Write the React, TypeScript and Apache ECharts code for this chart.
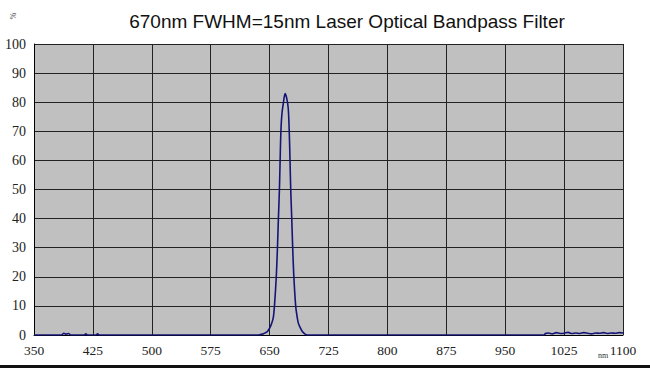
import React, { useEffect, useRef } from "react";
import * as echarts from "echarts";

const TITLE = "670nm FWHM=15nm Laser Optical Bandpass Filter";
const X_MIN = 350;
const X_MAX = 1100;
const X_STEP = 75;
const Y_MIN = 0;
const Y_MAX = 100;
const Y_STEP = 10;

// wavelength (nm) and transmission (%)
const wavelengths = [
  350, 385, 388, 391, 394, 397, 414, 416, 418, 429, 431, 433, 600, 636, 641, 645, 648,
  650.7, 652.7, 654.7, 656.2, 658.5, 660, 661.2, 662.5, 663.4, 664.4, 665.7, 667.7,
  669.7, 671.7, 673.7, 675, 676, 676.9, 678.2, 679.4, 680.9, 683.2, 685.2, 686.7,
  688.7, 691.7, 694.7, 697.7, 1000, 1001, 1005, 1010, 1015, 1020, 1025, 1030, 1035,
  1040, 1045, 1050, 1055, 1060, 1065, 1070, 1075, 1080, 1085, 1090, 1095, 1100,
];
const transmission = [
  0, 0, 0.6, 0.3, 0.5, 0, 0, 0.4, 0, 0, 0.4, 0, 0, 0, 0.3, 0.8, 1.5,
  2.7, 4, 6, 10, 20, 30, 40, 50, 60, 70, 76, 80,
  83, 81.5, 78, 70, 60, 50, 40, 30, 20, 10, 6, 4,
  2.7, 1.2, 0.4, 0, 0, 0.5, 0.7, 0.4, 0.8, 0.5, 0.6, 0.9, 0.5,
  0.7, 0.5, 0.8, 0.6, 0.4, 0.7, 0.6, 0.8, 0.5, 0.7, 0.6, 0.8, 0.7,
];

export default function App() {
  const ref = useRef<HTMLDivElement>(null);
  useEffect(() => {
    if (!ref.current) return;
    const chart = echarts.init(ref.current, undefined, { renderer: "svg" });
    const data = wavelengths.map((w, i) => [w, transmission[i]]);
    chart.setOption({
      animation: false,
      backgroundColor: "#ffffff",
      grid: {
        left: 34,
        right: 27,
        top: 44,
        bottom: 33,
        show: true,
        backgroundColor: "#c0c0c0",
        borderWidth: 0,
      },
      xAxis: {
        type: "value",
        min: X_MIN,
        max: X_MAX,
        interval: X_STEP,
        axisLine: { show: true, lineStyle: { color: "#000", width: 1 } },
        axisTick: { show: false },
        splitLine: { show: true, lineStyle: { color: "#222", width: 1 } },
        axisLabel: {
          color: "#222",
          fontFamily: "Liberation Serif",
          fontSize: 13.5,
          margin: 8,
          formatter: (v: number) => String(v),
        },
      },
      yAxis: {
        type: "value",
        min: Y_MIN,
        max: Y_MAX,
        interval: Y_STEP,
        axisLine: { show: true, lineStyle: { color: "#000", width: 1 } },
        axisTick: { show: false },
        splitLine: { show: true, lineStyle: { color: "#222", width: 1 } },
        axisLabel: {
          color: "#222",
          fontFamily: "Liberation Serif",
          fontSize: 14,
          margin: 8,
        },
      },
      series: [
        {
          type: "line",
          data,
          showSymbol: false,
          smooth: 0.3,
          lineStyle: { color: "#141478", width: 1.6 },
        },
      ],
      graphic: [
        {
          type: "text",
          x: 347,
          y: 21,
          style: {
            text: TITLE,
            font: '19px "Liberation Sans", Arial, sans-serif',
            fill: "#111",
            textAlign: "center",
            textVerticalAlign: "middle",
          },
        },
        {
          type: "text",
          x: 12,
          y: 16,
          rotation: -Math.PI / 2,
          style: {
            text: "%",
            font: '8px "Liberation Serif", serif',
            fill: "#444",
            textAlign: "center",
            textVerticalAlign: "middle",
          },
        },
        {
          type: "text",
          x: 603,
          y: 355,
          style: {
            text: "nm",
            font: '8px "Liberation Serif", serif',
            fill: "#333",
            textAlign: "center",
            textVerticalAlign: "middle",
          },
        },
        {
          type: "rect",
          shape: { x: 0, y: 365, width: 650, height: 3 },
          style: { fill: "#111" },
        },
      ],
    });
    return () => chart.dispose();
  }, []);
  return (
    <div
      ref={ref}
      style={{ position: "absolute", left: 0, top: 0, width: 650, height: 368 }}
    />
  );
}
